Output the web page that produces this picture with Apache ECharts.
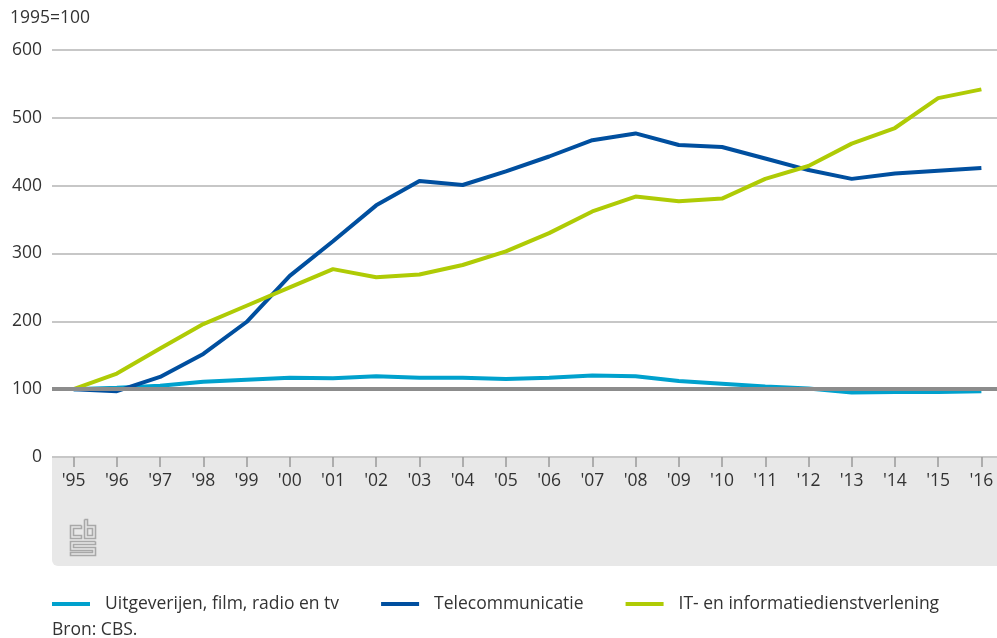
<!DOCTYPE html>
<html>
<head>
<meta charset="utf-8">
<script src="https://cdn.jsdelivr.net/npm/echarts@6/dist/echarts.min.js"></script>
<style>
  html, body { margin: 0; padding: 0; background: #fff; }
  #main { width: 997px; height: 638px; }
</style>
</head>
<body>
<div id="main"></div>
<script>
var years = ["'95", "'96", "'97", "'98", "'99", "'00", "'01", "'02", "'03", "'04", "'05",
  "'06", "'07", "'08", "'09", "'10", "'11", "'12", "'13", "'14", "'15", "'16"];

var uitgeverijen = [100, 102, 105, 111, 114, 117, 116, 119, 117, 117, 115,
  117, 120, 119, 112, 108, 104, 101, 95, 96, 96, 97];
var telecom = [100, 97, 118, 152, 199, 267, 318, 371, 407, 401, 421,
  443, 467, 477, 460, 457, 440, 423, 410, 418, 422, 426];
var itDiensten = [100, 123, 160, 196, 223, 250, 277, 265, 269, 283, 303,
  330, 362, 384, 377, 381, 410, 429, 462, 485, 529, 542];

var yTicks = [0, 100, 200, 300, 400, 500, 600];

var chartDom = document.getElementById('main');
var myChart = echarts.init(chartDom);
var font = '"Open Sans", sans-serif';
var fs = 17.5;
var logoStyle = { stroke: '#a8a8a8', lineWidth: 1.6, fill: null };

var option = {
  textStyle: { fontFamily: font },
  animation: false,
  graphic: [
    // grey band behind the x axis labels
    {
      type: 'rect',
      left: 52, top: 458, z: -10,
      shape: { width: 960, height: 108, r: [0, 0, 0, 6] },
      style: { fill: '#e8e8e8' }
    },
    {
      type: 'text', left: 10, top: 9,
      style: { text: '1995=100', fontSize: fs, fill: '#333', fontFamily: font }
    },
    {
      type: 'text', left: 52, top: 621,
      style: { text: 'Bron: CBS.', fontSize: fs, fill: '#333', fontFamily: font }
    },
    // cbs logo
    {
      type: 'group', left: 68, top: 517,
      children: [
        { type: 'polyline', shape: { points: [[11, 6], [0, 6], [0, 19], [11, 19], [11, 16], [3, 16], [3, 9], [11, 9], [11, 6]] }, style: logoStyle },
        { type: 'polyline', shape: { points: [[14, 0], [14, 19], [25, 19], [25, 6], [17, 6], [17, 0], [14, 0]] }, style: logoStyle },
        { type: 'rect', shape: { x: 17, y: 9, width: 5, height: 7 }, style: logoStyle },
        { type: 'polyline', shape: { points: [[25, 22], [0, 22], [0, 31], [22, 31], [22, 33], [0, 33], [0, 36], [25, 36], [25, 28], [3, 28], [3, 25], [25, 25], [25, 22]] }, style: logoStyle }
      ]
    }
  ],
  legend: {
    left: 52, top: 595,
    padding: 0,
    icon: 'rect',
    itemWidth: 38, itemHeight: 4,
    itemGap: 42,
    textStyle: { fontSize: fs, color: '#333', fontFamily: font, padding: [0, 0, 0, 10] },
    data: ['Uitgeverijen, film, radio en tv', 'Telecommunicatie', 'IT- en informatiedienstverlening']
  },
  grid: { left: 52, width: 951, top: 50, bottom: 181, outerBoundsMode: 'none', containLabel: false },
  xAxis: {
    type: 'category',
    data: years,
    boundaryGap: true,
    axisLine: { show: false },
    axisTick: { show: true, alignWithLabel: true, length: 10, lineStyle: { color: '#999', width: 1.5 } },
    axisLabel: { fontSize: fs, color: '#333', margin: 15, fontFamily: font }
  },
  yAxis: {
    type: 'value',
    min: yTicks[0], max: yTicks[yTicks.length - 1], interval: 100,
    axisLine: { show: false },
    axisTick: { show: false },
    axisLabel: { fontSize: fs, color: '#333', margin: 10, fontFamily: font },
    splitLine: { lineStyle: { color: '#b4b4b4', width: 1.5 } }
  },
  series: [
    {
      name: 'ref', type: 'line', data: [], z: 1, silent: true,
      markLine: {
        silent: true, symbol: 'none', label: { show: false },
        lineStyle: { color: '#8c8c8c', width: 4, type: 'solid' },
        data: [{ yAxis: 100 }]
      }
    },
    {
      name: 'Uitgeverijen, film, radio en tv', type: 'line', data: uitgeverijen, z: 3,
      color: '#00A1CD', showSymbol: false, lineStyle: { width: 4 }
    },
    {
      name: 'Telecommunicatie', type: 'line', data: telecom, z: 3,
      color: '#004F9F', showSymbol: false, lineStyle: { width: 4 }
    },
    {
      name: 'IT- en informatiedienstverlening', type: 'line', data: itDiensten, z: 3,
      color: '#AFCB05', showSymbol: false, lineStyle: { width: 4 }
    }
  ]
};

if (chartDom && myChart) {
  myChart.setOption(option);
} else {
  console.error('Failed to initialize the chart');
}
</script>
</body>
</html>
